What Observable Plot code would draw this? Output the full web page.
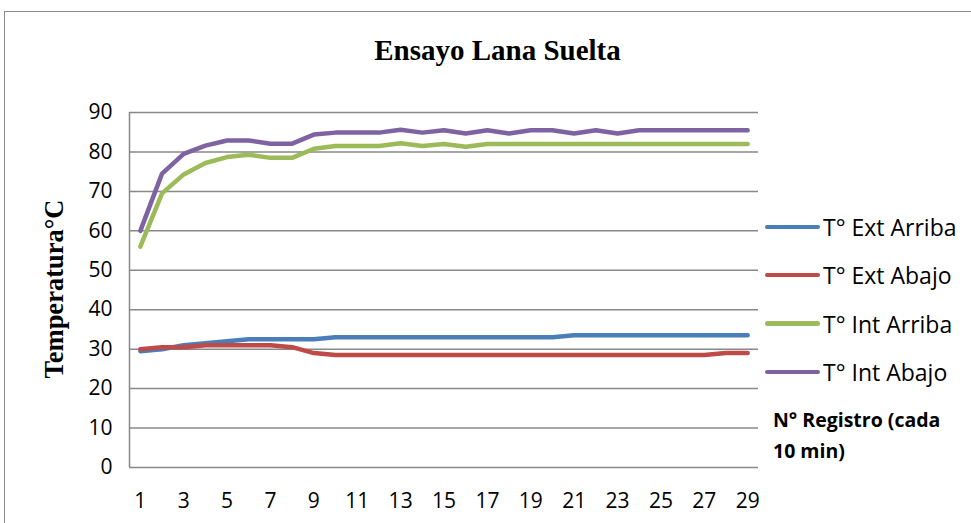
<!DOCTYPE html>
<html>
<head>
<meta charset="utf-8">
<script src="https://cdn.jsdelivr.net/npm/d3@7"></script>
<script src="https://cdn.jsdelivr.net/npm/@observablehq/plot@0.6"></script>
<style>
  html, body { margin: 0; padding: 0; background: #fff; }
  #wrap { position: relative; width: 971px; height: 523px; overflow: hidden; background: #fff; }
  #frame { position: absolute; left: 4px; top: 11px; width: 990px; height: 540px; border: 1.5px solid #8a8a8a; box-sizing: border-box; }
  #chart { position: absolute; left: 0; top: 0; }
  .title { position: absolute; left: 0; width: 995px; top: 36px; text-align: center; font: bold 29px "Liberation Serif", "Times New Roman", serif; line-height: 29px; color: #000; white-space: nowrap; }
  .ytitle { position: absolute; left: 54px; top: 289px; transform: translate(-50%, -50%) rotate(-90deg); font: bold 26.5px "Liberation Serif", "Times New Roman", serif; line-height: 26px; white-space: nowrap; color: #000; }
  .leg { position: absolute; left: 765px; display: flex; align-items: center; height: 30px; transform: translateY(-50%); }
  .leg .sw { width: 55px; height: 4.5px; border-radius: 3px; margin-right: 3px; }
  .leg span { font: 23px "Open Sans", sans-serif; color: #000; white-space: nowrap; line-height: 30px; }
  .note { position: absolute; left: 773px; top: 404px; font: bold 19.5px "Open Sans", sans-serif; line-height: 31px; color: #000; white-space: nowrap; }
</style>
</head>
<body>
<div id="wrap">
  <div id="frame"></div>
  <div id="chart"></div>
</div>
<script>
// ---- data ----
const registro = d3.range(1, 30); // 1..29
const seriesNames = ["T° Ext Arriba", "T° Ext Abajo", "T° Int Arriba", "T° Int Abajo"];
const seriesColors = ["#4A7EBB", "#BE4B48", "#9BBB59", "#7F62A1"];

const extArriba = [29.5, 30, 31, 31.5, 32, 32.5, 32.5, 32.5, 32.5, 33, 33, 33, 33, 33, 33, 33, 33, 33, 33, 33,
  33.5, 33.5, 33.5, 33.5, 33.5, 33.5, 33.5, 33.5, 33.5];
const extAbajo = [30, 30.5, 30.5, 31, 31, 31, 31, 30.5, 29, 28.5, 28.5, 28.5, 28.5, 28.5, 28.5, 28.5, 28.5, 28.5,
  28.5, 28.5, 28.5, 28.5, 28.5, 28.5, 28.5, 28.5, 28.5, 29, 29];
const intArriba = [56, 69.5, 74.3, 77.2, 78.7, 79.3, 78.5, 78.5, 80.8, 81.5, 81.5, 81.5, 82.2, 81.5, 82, 81.3,
  82, 82, 82, 82, 82, 82, 82, 82, 82, 82, 82, 82, 82];
const intAbajo = [60, 74.5, 79.5, 81.6, 82.9, 82.9, 82.1, 82.1, 84.4, 84.9, 84.9, 84.9, 85.6, 84.9, 85.5, 84.7,
  85.5, 84.7, 85.5, 85.5, 84.7, 85.5, 84.7, 85.5, 85.5, 85.5, 85.5, 85.5, 85.5];

const yTicks = [0, 10, 20, 30, 40, 50, 60, 70, 80, 90];
const xTicks = [1, 3, 5, 7, 9, 11, 13, 15, 17, 19, 21, 23, 25, 27, 29];

const title = "Ensayo Lana Suelta";
const yLabel = "Temperatura°C";
const noteLines = ["N° Registro (cada", "10 min)"];

// ---- build table ----
const allSeries = [extArriba, extAbajo, intArriba, intAbajo];
const rows = [];
allSeries.forEach((vals, si) => {
  vals.forEach((v, i) => rows.push({serie: seriesNames[si], x: registro[i], y: v}));
});

const plot = Plot.plot({
  width: 971,
  height: 523,
  marginLeft: 129,
  marginRight: 213,
  marginTop: 112,
  marginBottom: 56,
  style: {fontFamily: "'Open Sans', sans-serif", fontSize: "21px", color: "#000", background: "transparent", overflow: "visible"},
  x: {domain: [0.5, 29.5], label: null},
  y: {domain: [0, 90], label: null},
  color: {domain: seriesNames, range: seriesColors},
  marks: [
    Plot.ruleY(yTicks.filter(d => d > 0), {stroke: "#888", strokeWidth: 1.5, strokeOpacity: 1}),
    Plot.ruleY([0], {stroke: "#888", strokeWidth: 1.5}),
    Plot.ruleX([0.5], {y1: 0, y2: 90, stroke: "#888", strokeWidth: 1.5}),
    Plot.axisX(xTicks, {tickSize: 0, tickPadding: 26, fontSize: 21, label: null, tickFormat: d => String(d)}),
    Plot.axisY(yTicks, {tickSize: 0, tickPadding: 17, fontSize: 21, label: null, tickFormat: d => String(d)}),
    Plot.line(rows, {x: "x", y: "y", z: "serie", stroke: "serie", strokeWidth: 4.5,
      strokeLinecap: "round", strokeLinejoin: "round"})
  ]
});
document.getElementById("chart").appendChild(plot);

const wrap = document.getElementById("wrap");
const t = document.createElement("div");
t.className = "title"; t.textContent = title; wrap.appendChild(t);
const yt = document.createElement("div");
yt.className = "ytitle"; yt.textContent = yLabel; wrap.appendChild(yt);

const legTops = [227, 275, 323.5, 372];
seriesNames.forEach((name, i) => {
  const d = document.createElement("div");
  d.className = "leg";
  d.style.top = legTops[i] + "px";
  const sw = document.createElement("div");
  sw.className = "sw"; sw.style.background = seriesColors[i];
  const sp = document.createElement("span");
  sp.textContent = name;
  d.appendChild(sw); d.appendChild(sp);
  wrap.appendChild(d);
});
const note = document.createElement("div");
note.className = "note";
note.innerHTML = noteLines.join("<br>");
wrap.appendChild(note);
</script>
</body>
</html>
